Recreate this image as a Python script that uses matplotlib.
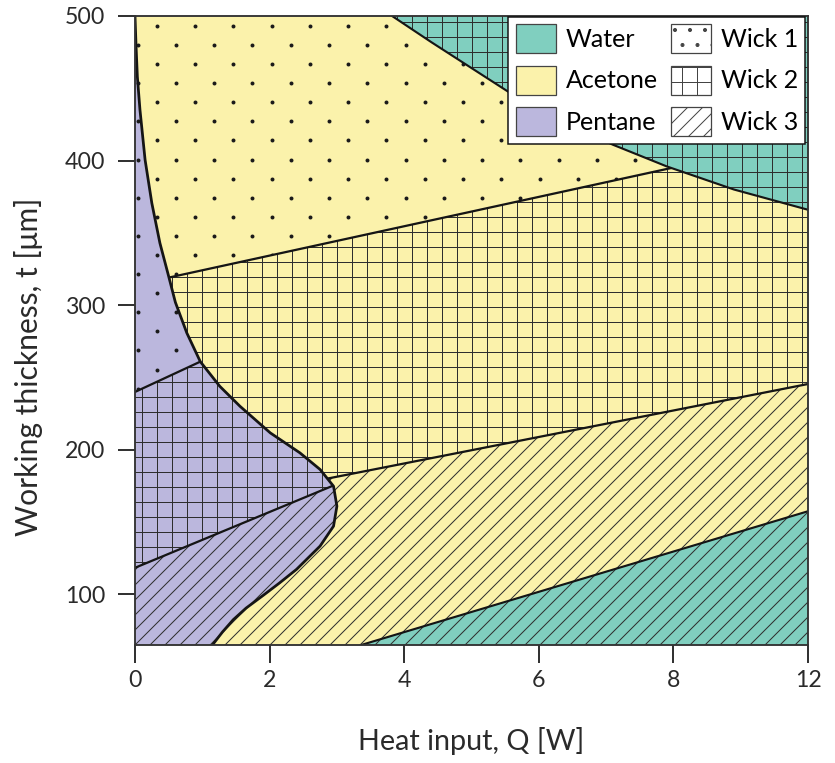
import matplotlib
matplotlib.use('Agg')
import matplotlib.pyplot as plt
from matplotlib.patches import Polygon, Patch
import numpy as np

plt.rcParams['font.family'] = ['Lato', 'DejaVu Sans']
plt.rcParams['hatch.linewidth'] = 0.8

# x positions are tick slots; the source labels its last tick "12"
x_ticks = [0, 2, 4, 6, 8, 10]
x_tick_labels = ['0', '2', '4', '6', '8', '12']
y_ticks = [100, 200, 300, 400, 500]

# pentane | acetone boundary, bottom to top
curve_x = [1.15, 1.30, 1.46, 1.65, 1.91, 2.15, 2.40, 2.75, 2.95, 3.00, 2.95, 2.75, 2.45, 2.01,
           1.56, 1.26, 0.97, 0.77, 0.60, 0.50, 0.37, 0.25, 0.15, 0.074, 0.035, 0.015, 0.0]
curve_y = [65, 74, 82.5, 90.5, 99.5, 108, 117.3, 133.4, 147.2, 161, 174.8, 186.4, 197.9, 211.7,
           230.1, 243.9, 261, 280.8, 302, 320, 343, 370.6, 400.5, 435, 458, 480, 500]

# acetone | water boundary, top right
water_top_x = [3.82, 4.4, 5.0, 5.6, 6.3, 7.1, 7.9, 8.9, 10.0]
water_top_y = [500, 482, 464, 446, 428, 411, 396, 380, 366]

# acetone | water boundary, bottom right
water_low_x = [3.36, 10.0]
water_low_y = [65, 157.5]

# wick boundaries (straight lines)
ace_w12_x, ace_w12_y = [0, 10], [314.0, 415.5]
ace_w23_x, ace_w23_y = [0, 10], [153.9, 245.5]
pen_w12_x, pen_w12_y = [0, 3], [240.0, 304.8]
pen_w23_x, pen_w23_y = [0, 3], [118.4, 176.3]

fluids = ['Water', 'Acetone', 'Pentane']
fluid_colors = ['#80cfbf', '#fbf2ab', '#bbb7dd']
wicks = ['Wick 1', 'Wick 2', 'Wick 3']
wick_hatches = ['.', '+', '//']

HATCH_C = '#2e2e2e'
LINE_C = '#151515'
AX_C = '#333333'
Y_MIN, Y_MAX = 65, 500


def half(poly, lx, ly, above):
    # keep the part of poly above / below the line through lx, ly
    (x0, x1), (y0, y1) = lx, ly

    def s(p):
        d = p[1] - (y0 + (y1 - y0) * (p[0] - x0) / (x1 - x0))
        return d if above else -d

    out = []
    for i in range(len(poly)):
        p, q = poly[i], poly[(i + 1) % len(poly)]
        sp, sq = s(p), s(q)
        if sp >= 0:
            out.append(p)
        if sp * sq < 0:
            t = sp / (sp - sq)
            out.append((p[0] + t * (q[0] - p[0]), p[1] + t * (q[1] - p[1])))
    return out


fig = plt.figure(figsize=(835 / 90, 763 / 90), dpi=90)
ax = fig.add_axes([135 / 835, 118 / 763, 673 / 835, 629 / 763])


def fill(pts, color='none', hatch=None, z=1):
    p = Polygon(pts, closed=True, facecolor=color, edgecolor=HATCH_C,
                lw=0, hatch=hatch, zorder=z)
    ax.add_patch(p)
    return p


curve = list(zip(curve_x, curve_y))
top = list(zip(water_top_x, water_top_y))
pen_poly = [(0, Y_MIN)] + curve
ace_poly = curve + top + [(water_low_x[1], water_low_y[1]), (water_low_x[0], water_low_y[0])]
wat_top_poly = top + [(10, Y_MAX)]
wat_low_poly = [(water_low_x[0], water_low_y[0]), (water_low_x[1], water_low_y[1]), (10, Y_MIN)]

# fluid colours
fill(wat_top_poly, fluid_colors[0])
fill(wat_low_poly, fluid_colors[0])
ace_patch = fill(ace_poly, fluid_colors[1])
pen_patch = fill(pen_poly, fluid_colors[2])

# wick textures
fill(wat_top_poly, hatch=wick_hatches[1], z=2)
fill(wat_low_poly, hatch=wick_hatches[2], z=2)
a1 = fill(half(ace_poly, ace_w12_x, ace_w12_y, True), z=2)
fill(half(half(ace_poly, ace_w12_x, ace_w12_y, False), ace_w23_x, ace_w23_y, True),
     hatch=wick_hatches[1], z=2)
fill(half(ace_poly, ace_w23_x, ace_w23_y, False), hatch=wick_hatches[2], z=2)
p1 = fill(half(pen_poly, pen_w12_x, pen_w12_y, True), z=2)
fill(half(half(pen_poly, pen_w12_x, pen_w12_y, False), pen_w23_x, pen_w23_y, True),
     hatch=wick_hatches[1], z=2)
fill(half(pen_poly, pen_w23_x, pen_w23_y, False), hatch=wick_hatches[2], z=2)

# sparse dot texture for wick 1
dx, dy = 0.569, 13.2
dots = []
for j, yv in enumerate(np.arange(493.1, 60, -dy)):
    off = 0 if j % 2 == 0 else dx / 2
    for xv in np.arange(0.322 - dx, 10.5, dx):
        dots.append((xv + off, yv))
dots = np.array(dots)
for clip in (a1, p1):
    sc = ax.scatter(dots[:, 0], dots[:, 1], s=10, color='#1a1a1a', lw=0, zorder=3)
    sc.set_clip_path(clip)

# boundaries
ax.plot(curve_x, curve_y, color=LINE_C, lw=2.2, zorder=5, solid_joinstyle='round')
ax.plot(water_top_x, water_top_y, color=LINE_C, lw=1.7, zorder=5)
ax.plot(water_low_x, water_low_y, color=LINE_C, lw=1.7, zorder=5)
for lx, ly, clip in [(ace_w12_x, ace_w12_y, ace_patch), (ace_w23_x, ace_w23_y, ace_patch),
                     (pen_w12_x, pen_w12_y, pen_patch), (pen_w23_x, pen_w23_y, pen_patch)]:
    ln, = ax.plot(lx, ly, color=LINE_C, lw=1.8, zorder=4)
    ln.set_clip_path(clip)

ax.set_xlim(0, 10)
ax.set_ylim(Y_MIN, Y_MAX)
ax.set_xticks(x_ticks, x_tick_labels)
ax.set_yticks(y_ticks)
ax.tick_params(direction='out', length=14, width=1.6, color=AX_C,
               labelsize=18.5, labelcolor='#2a2a2a')
ax.tick_params(axis='x', pad=6)
ax.tick_params(axis='y', pad=10)
for sp in ax.spines.values():
    sp.set_color(AX_C)
    sp.set_linewidth(1.5)
    sp.set_zorder(6)

ax.set_xlabel('Heat input, Q [W]', fontsize=23, color='#2a2a2a')
ax.set_ylabel('Working thickness, t [μm]', fontsize=24, color='#2a2a2a')
ax.xaxis.set_label_coords(0.5, -0.131)
ax.yaxis.set_label_coords(-0.136, 0.442)

# legend: fluids in column 1, wicks in column 2
handles = [Patch(facecolor=c, edgecolor='#444444', lw=1.0) for c in fluid_colors]
handles += [Patch(facecolor='white', edgecolor='#444444', lw=1.0, hatch=h) for h in wick_hatches]
leg = ax.legend(handles, fluids + wicks, ncol=2, loc='upper right',
                bbox_to_anchor=(0.996, 0.999), fontsize=20, frameon=True,
                fancybox=False, framealpha=1, edgecolor='#111111',
                handlelength=1.6, handleheight=1.41, handletextpad=0.4,
                labelspacing=0.5, columnspacing=0.5, borderpad=0.3,
                borderaxespad=0)
leg.get_frame().set_linewidth(1.2)
leg.set_zorder(10)

fig.savefig('out.png', dpi=90)
